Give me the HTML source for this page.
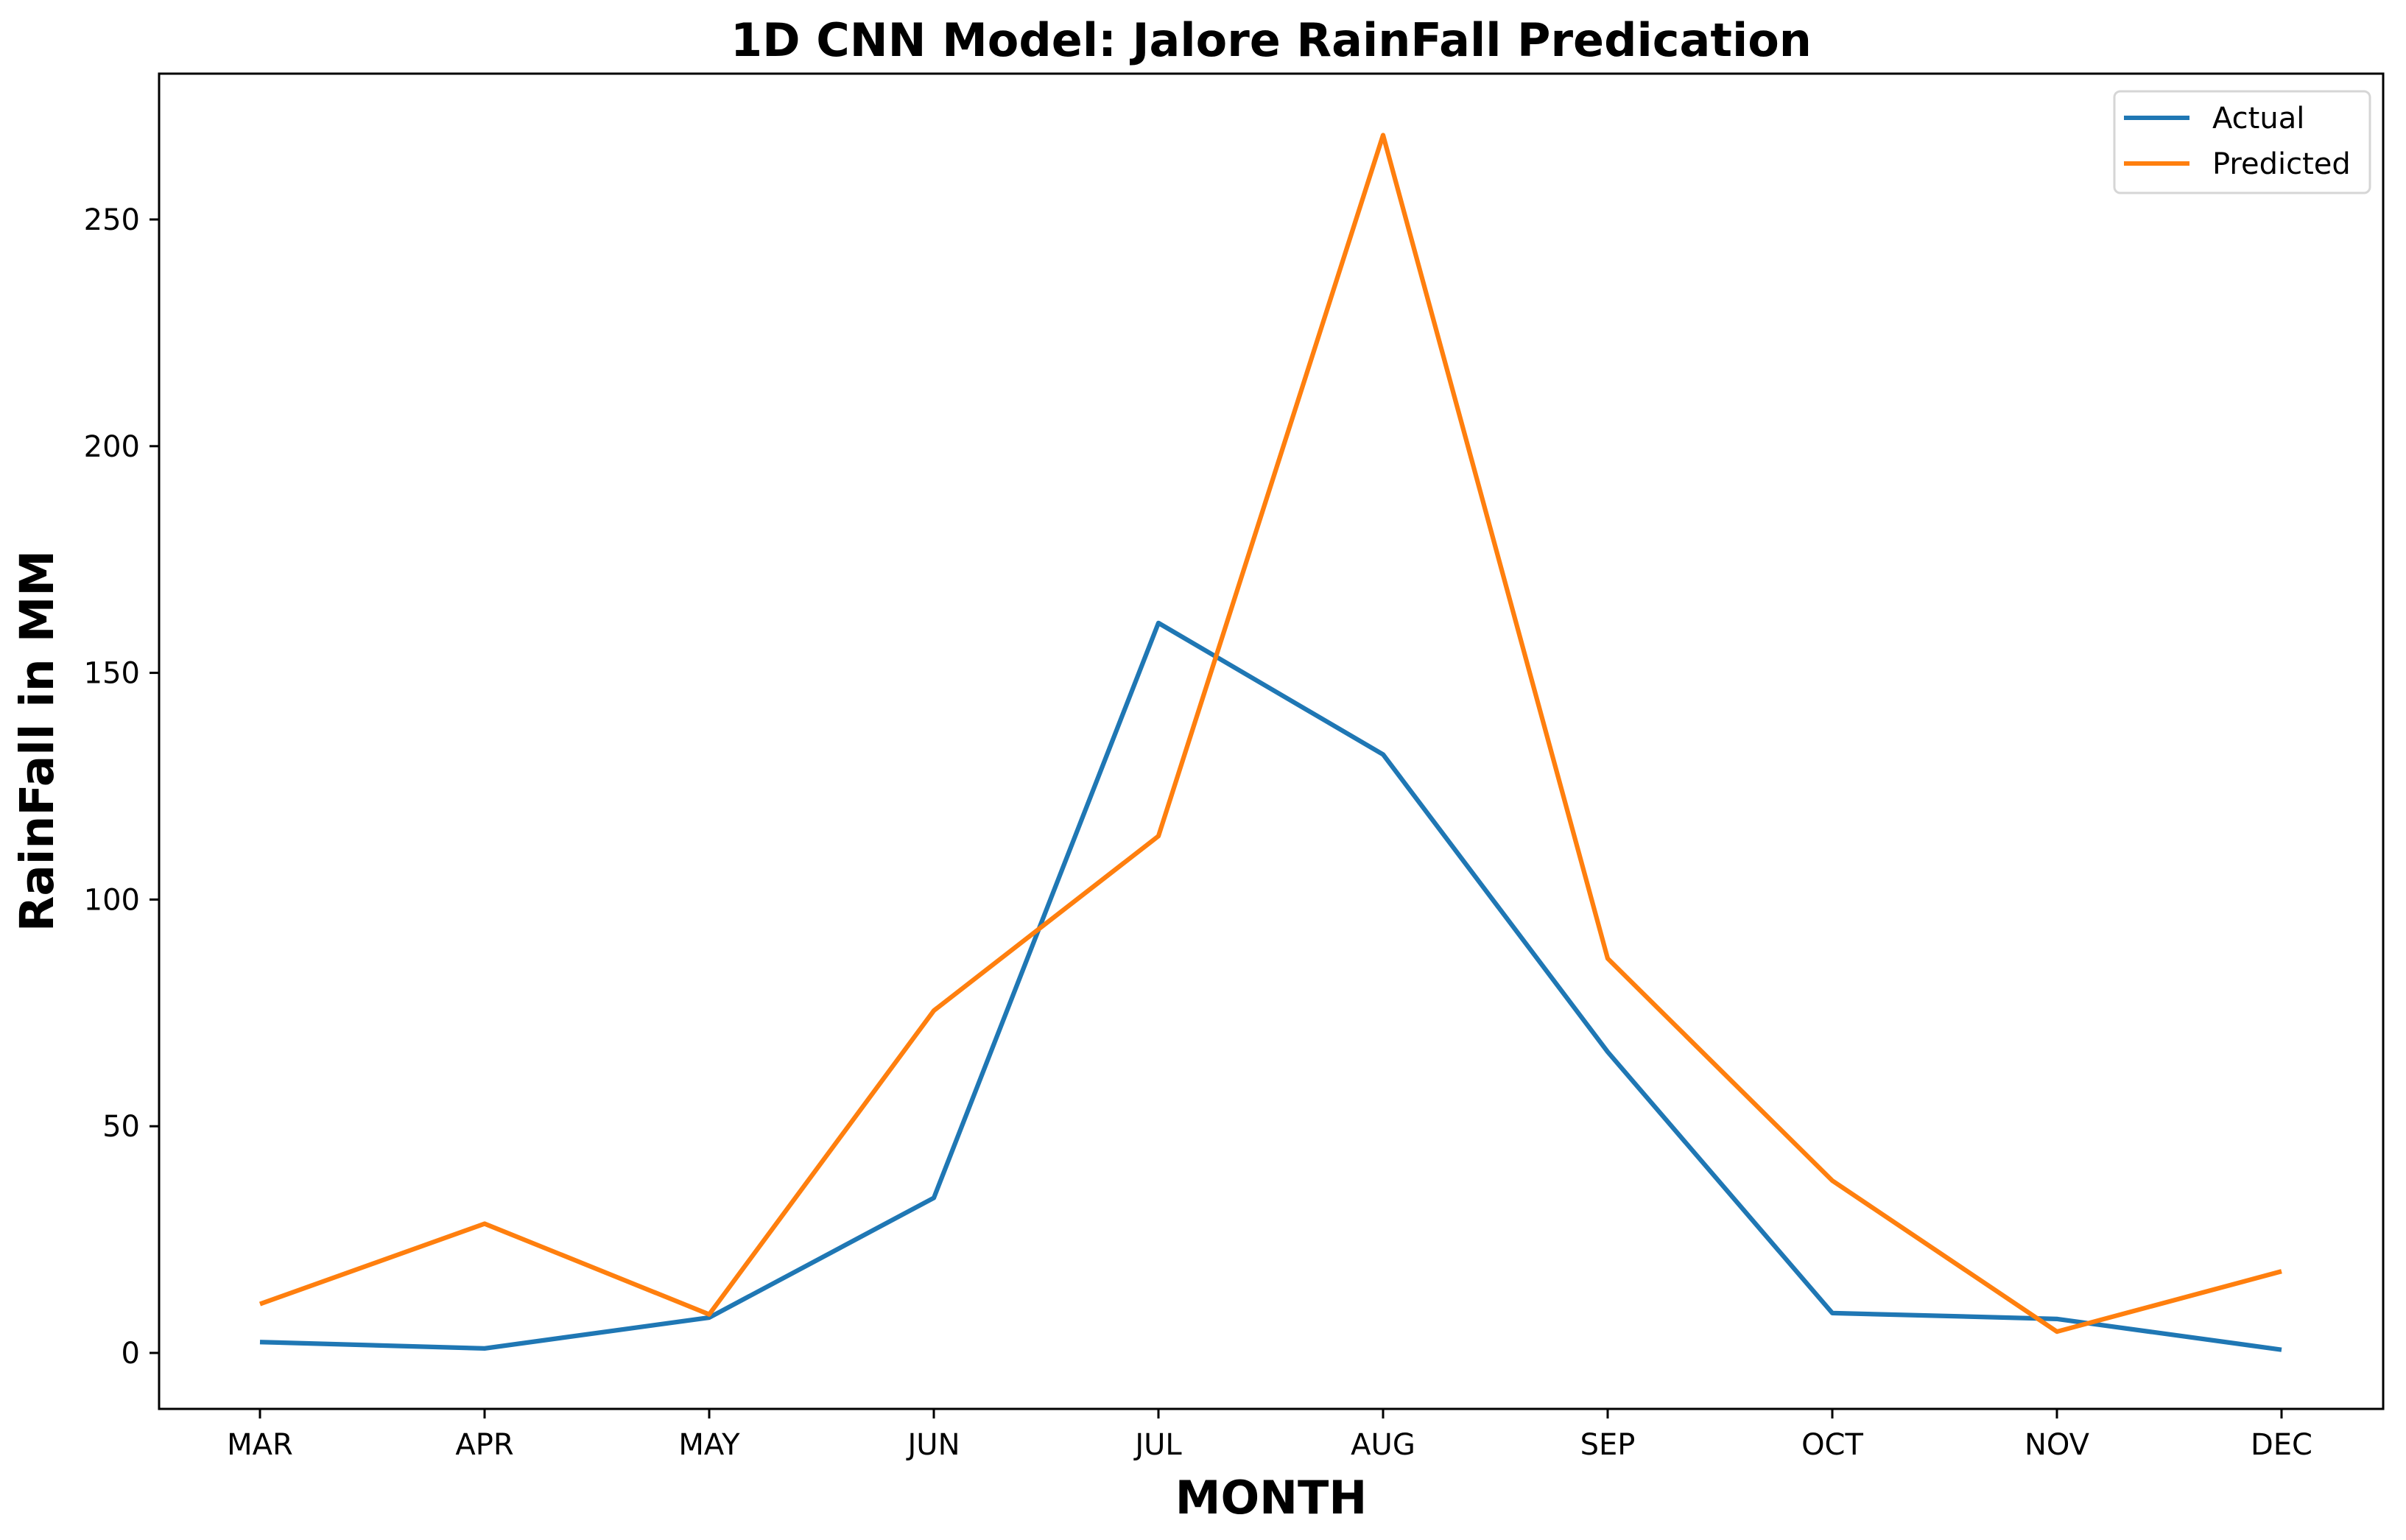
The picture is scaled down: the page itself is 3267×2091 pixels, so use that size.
<!DOCTYPE html>
<html><head><meta charset="utf-8"><style>
html,body{margin:0;padding:0;background:#fff;}
svg{display:block;font-family:"DejaVu Sans","Liberation Sans",sans-serif;}
</style></head><body>
<svg id="chart" width="3267" height="2091" viewBox="0 0 3267 2091" xmlns="http://www.w3.org/2000/svg">
<rect width="3267" height="2091" fill="#fff"/>
<text x="1726" y="76" text-anchor="middle" font-size="62" font-weight="bold">1D CNN Model: Jalore RainFall Predication</text>
<g id="grid"></g>
<g id="series"></g>
<rect x="216" y="100" width="3020" height="1813" fill="none" stroke="#000" stroke-width="3"/>
<text x="1726" y="2055" text-anchor="middle" font-size="62" font-weight="bold">MONTH</text>
<text transform="translate(72,1006) rotate(-90)" text-anchor="middle" font-size="63" font-weight="bold">RainFall in MM</text>
<g>
<rect x="2871" y="124" width="347" height="138" rx="8" fill="#fff" stroke="#d6d6d6" stroke-width="3"/>
<line x1="2884" y1="160" x2="2973" y2="160" stroke="#1f77b4" stroke-width="6"/>
<text x="3004" y="174" font-size="40">Actual</text>
<line x1="2884" y1="222" x2="2973" y2="222" stroke="#ff7f0e" stroke-width="6"/>
<text x="3004" y="236" font-size="40">Predicted</text>
</g>
</svg>
<script>
const months = ["MAR","APR","MAY","JUN","JUL","AUG","SEP","OCT","NOV","DEC"];
const actual = [2.4,1.0,7.8,34.2,161,132,66.4,8.8,7.5,0.7];
const predicted = [10.8,28.5,8.5,75.5,114,268.6,87,38,4.7,18];
const yTicks = [0,50,100,150,200,250];
const NS="http://www.w3.org/2000/svg";
const xOf = i => 353 + i*305;
const yOf = v => 1837 - v*6.156;
const g = document.getElementById('grid');
const s = document.getElementById('series');
function mk(tag, attrs, parent){const e=document.createElementNS(NS,tag);for(const k in attrs)e.setAttribute(k,attrs[k]);parent.appendChild(e);return e;}
yTicks.forEach(v=>{
  const t=mk('line',{x1:203,x2:216,y1:yOf(v),y2:yOf(v),stroke:'#000','stroke-width':3},g);
  
  
  const l=mk('text',{x:190,y:yOf(v)+14,'text-anchor':'end','font-size':40},g);
  l.textContent=v;
  
  
});
months.forEach((m,i)=>{
  const t=mk('line',{x1:xOf(i),x2:xOf(i),y1:1913,y2:1926,stroke:'#000','stroke-width':3},g);
  
  
  const l=mk('text',{x:xOf(i),y:1975,'text-anchor':'middle','font-size':40},g);
  l.textContent=m;
  
  
});
function line(arr,color,name){
  const p=mk('polyline',{points:arr.map((v,i)=>xOf(i)+','+yOf(v)).join(' '),fill:'none',stroke:color,'stroke-width':6.25,'stroke-linejoin':'round'},s);
  
  
}
line(actual,'#1f77b4','actual-line');
line(predicted,'#ff7f0e','predicted-line');
</script>
</body></html>
